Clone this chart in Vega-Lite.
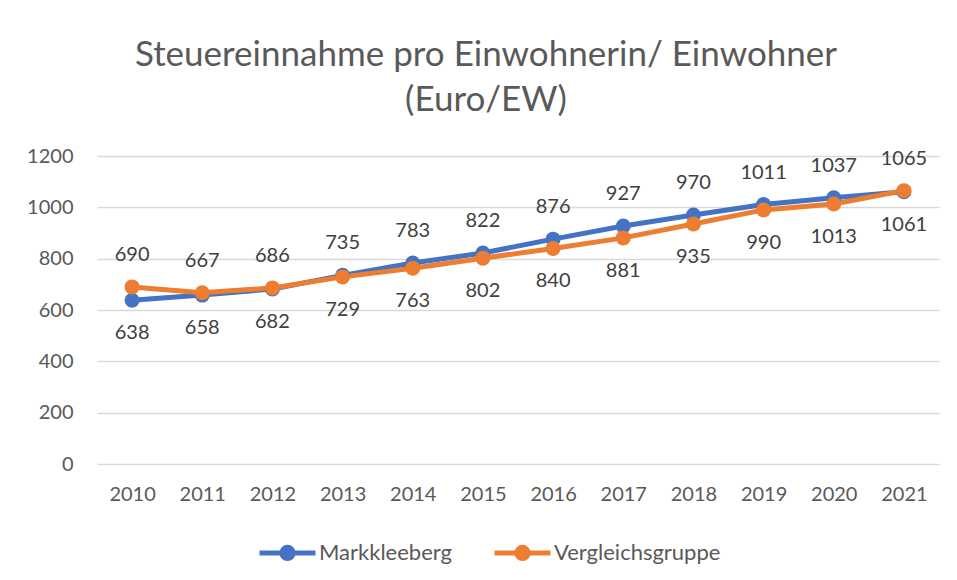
{
  "$schema": "https://vega.github.io/schema/vega-lite/v6.json",
  "width": 842,
  "height": 308,
  "autosize": {"type": "none"},
  "padding": {"left": 97, "top": 156, "right": 18, "bottom": 116},
  "background": "white",
  "title": {
    "text": ["Steuereinnahme pro Einwohnerin/ Einwohner", "(Euro/EW)"],
    "font": "Lato",
    "fontSize": 35,
    "fontWeight": "normal",
    "color": "#595959",
    "lineHeight": 45,
    "anchor": "middle",
    "baseline": "alphabetic",
    "dx": -32,
    "offset": 0,
    "limit": 900
  },
  "config": {
    "view": {"stroke": null},
    "font": "Lato",
    "text": {"font": "Lato"}
  },
  "data": {
    "values": [
      {"year": "2010", "series": "Markkleeberg", "value": 638},
      {"year": "2011", "series": "Markkleeberg", "value": 658},
      {"year": "2012", "series": "Markkleeberg", "value": 682},
      {"year": "2013", "series": "Markkleeberg", "value": 735},
      {"year": "2014", "series": "Markkleeberg", "value": 783},
      {"year": "2015", "series": "Markkleeberg", "value": 822},
      {"year": "2016", "series": "Markkleeberg", "value": 876},
      {"year": "2017", "series": "Markkleeberg", "value": 927},
      {"year": "2018", "series": "Markkleeberg", "value": 970},
      {"year": "2019", "series": "Markkleeberg", "value": 1011},
      {"year": "2020", "series": "Markkleeberg", "value": 1037},
      {"year": "2021", "series": "Markkleeberg", "value": 1061},
      {"year": "2010", "series": "Vergleichsgruppe", "value": 690},
      {"year": "2011", "series": "Vergleichsgruppe", "value": 667},
      {"year": "2012", "series": "Vergleichsgruppe", "value": 686},
      {"year": "2013", "series": "Vergleichsgruppe", "value": 729},
      {"year": "2014", "series": "Vergleichsgruppe", "value": 763},
      {"year": "2015", "series": "Vergleichsgruppe", "value": 802},
      {"year": "2016", "series": "Vergleichsgruppe", "value": 840},
      {"year": "2017", "series": "Vergleichsgruppe", "value": 881},
      {"year": "2018", "series": "Vergleichsgruppe", "value": 935},
      {"year": "2019", "series": "Vergleichsgruppe", "value": 990},
      {"year": "2020", "series": "Vergleichsgruppe", "value": 1013},
      {"year": "2021", "series": "Vergleichsgruppe", "value": 1065}
    ]
  },
  "transform": [
    {"joinaggregate": [{"op": "max", "field": "value", "as": "maxv"}], "groupby": ["year"]}
  ],
  "encoding": {
    "x": {
      "field": "year",
      "type": "ordinal",
      "scale": {"type": "point", "padding": 0.5},
      "axis": {
        "title": null,
        "labelAngle": 0,
        "labelFont": "Lato",
        "labelFontSize": 20,
        "labelColor": "#595959",
        "labelPadding": 20,
        "ticks": false,
        "domain": false,
        "grid": false
      }
    },
    "y": {
      "field": "value",
      "type": "quantitative",
      "scale": {"domain": [0, 1200], "nice": false},
      "axis": {
        "title": null,
        "values": [0, 200, 400, 600, 800, 1000, 1200],
        "format": "d",
        "labelFont": "Lato",
        "labelFontSize": 20,
        "labelColor": "#595959",
        "labelPadding": 24,
        "ticks": false,
        "domain": false,
        "grid": true,
        "gridColor": "#d9d9d9",
        "gridWidth": 1.5
      }
    },
    "color": {
      "field": "series",
      "type": "nominal",
      "scale": {"domain": ["Markkleeberg", "Vergleichsgruppe"], "range": ["#4472C4", "#ED7D31"]},
      "legend": {
        "title": null,
        "orient": "none",
        "direction": "horizontal",
        "legendX": 160,
        "legendY": 366,
        "padding": 0,
        "labelFont": "Lato",
        "labelFontSize": 22,
        "labelColor": "#595959",
        "labelOffset": 1,
        "labelLimit": 400,
        "columnPadding": 32,
        "symbolType": "M-1,0H1M-0.2,0A0.2,0.2,0,1,1,0.2,0A0.2,0.2,0,1,1,-0.2,0Z",
        "symbolSize": 3136,
        "symbolStrokeWidth": 5,
        "symbolOpacity": 1,
        "encode": {
          "symbols": {
            "update": {
              "fill": {"scale": "color", "field": "value"},
              "stroke": {"scale": "color", "field": "value"},
              "strokeWidth": {"value": 5},
              "opacity": {"value": 1}
            }
          }
        }
      }
    }
  },
  "layer": [
    {"mark": {"type": "line", "strokeWidth": 5, "strokeCap": "round", "strokeJoin": "round"}},
    {"mark": {"type": "point", "filled": true, "size": 225, "opacity": 1, "shape": "circle"}},
    {
      "transform": [{"filter": "datum.value >= datum.maxv"}],
      "mark": {"type": "text", "font": "Lato", "fontSize": 20, "baseline": "middle", "dy": -32},
      "encoding": {"text": {"field": "value", "type": "quantitative"}, "color": {"value": "#404040"}}
    },
    {
      "transform": [{"filter": "datum.value < datum.maxv"}],
      "mark": {"type": "text", "font": "Lato", "fontSize": 20, "baseline": "middle", "dy": 33},
      "encoding": {"text": {"field": "value", "type": "quantitative"}, "color": {"value": "#404040"}}
    }
  ]
}
